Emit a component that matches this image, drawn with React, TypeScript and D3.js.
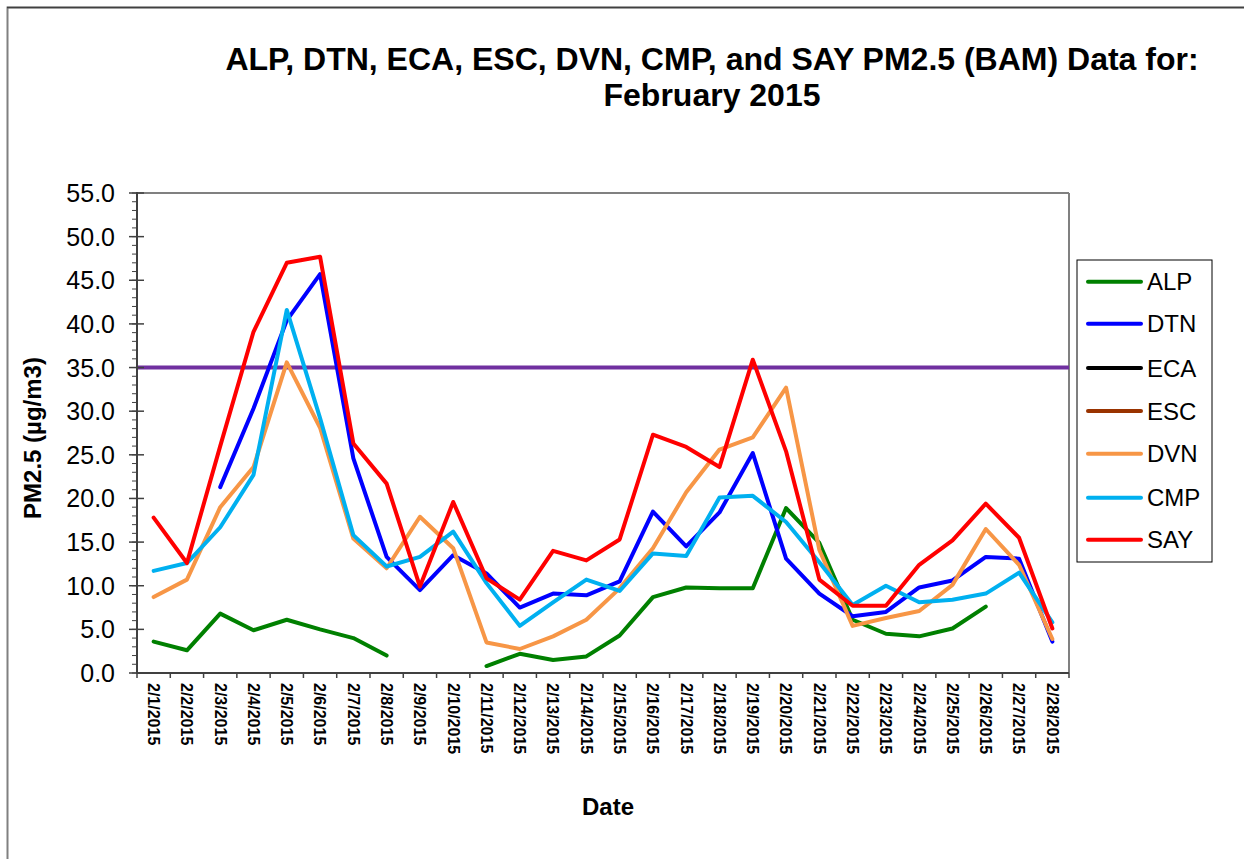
import React from "react";
import * as d3 from "d3";

const dates: string[] = Array.from({ length: 28 }, (_, i) => `2/${i + 1}/2015`);

const ALP: (number | null)[] = [3.6, 2.6, 6.8, 4.9, 6.1, 5.0, 4.0, 2.0, null, null, 0.8, 2.2, 1.5, 1.9, 4.3, 8.7, 9.8, 9.7, 9.7, 18.9, 14.9, 6.1, 4.5, 4.2, 5.1, 7.6, null, null];
const DTN: (number | null)[] = [null, null, 21.3, 30.3, 40.4, 45.7, 24.6, 13.3, 9.5, 13.5, 11.4, 7.5, 9.1, 8.9, 10.5, 18.5, 14.5, 18.4, 25.2, 13.1, 9.1, 6.5, 7.0, 9.8, 10.6, 13.3, 13.1, 3.6];
const ECA: (number | null)[] = dates.map(() => null);
const ESC: (number | null)[] = dates.map(() => null);
const DVN: (number | null)[] = [8.7, 10.7, 19.0, 23.6, 35.6, 28.1, 15.4, 12.0, 17.9, 14.3, 3.5, 2.75, 4.2, 6.1, 9.7, 14.3, 20.7, 25.6, 27.0, 32.7, 14.1, 5.4, 6.3, 7.1, 10.1, 16.5, 12.4, 3.9];
const CMP: (number | null)[] = [11.7, 12.6, 16.7, 22.7, 41.6, 29.2, 15.8, 12.2, 13.3, 16.2, 10.3, 5.4, 8.1, 10.7, 9.4, 13.7, 13.4, 20.1, 20.3, 17.3, 12.7, 7.8, 10.0, 8.1, 8.4, 9.1, 11.5, 5.8];
const SAY: (number | null)[] = [17.8, 12.6, 26.0, 39.1, 47.0, 47.7, 26.3, 21.7, 9.9, 19.6, 10.85, 8.4, 14.0, 12.9, 15.3, 27.3, 25.9, 23.6, 35.9, 25.4, 10.7, 7.7, 7.7, 12.4, 15.2, 19.4, 15.5, 5.1];

const seriesNames = ["ALP", "DTN", "ECA", "ESC", "DVN", "CMP", "SAY"];
const seriesColors = ["#008000", "#0000FF", "#000000", "#993300", "#F79646", "#00B0F0", "#FF0000"];
const seriesData = [ALP, DTN, ECA, ESC, DVN, CMP, SAY];

const standard = 35;
const yTicks = d3.range(0, 55.01, 5);
const yMinor = d3.range(0, 55.01, 1);

const FONT = "'Liberation Sans', Arial, sans-serif";

export default function App() {
  const left = 137, right = 1069, top = 193, bottom = 673;
  const x = d3.scaleBand<string>().domain(dates).range([left, right]);
  const cx = (d: string) => (x(d) as number) + x.bandwidth() / 2;
  const y = d3.scaleLinear().domain([0, 55]).range([bottom, top]);

  const line = d3
    .line<number | null>()
    .defined((d) => d != null)
    .x((_, i) => cx(dates[i]))
    .y((d) => y(d as number));

  const legendX = 1077, legendY = 260;
  const legendRows = [281.7, 323.7, 368, 411, 453.7, 497.7, 539.7];

  return (
    <svg width={1244} height={859} style={{ position: "absolute", left: 0, top: 0, background: "#fff" }} fontFamily={FONT}>
      <rect x={0} y={0} width={1244} height={859} fill="#fff" />
      <rect x={7.5} y={7.5} width={1400} height={1000} fill="none" stroke="#808080" strokeWidth={2} />
      <line x1={7} y1={7.5} x2={1244} y2={7.5} stroke="#404040" strokeWidth={1.5} />

      <text x={712} y={70} textAnchor="middle" fontWeight="bold" fontSize={32}>
        ALP, DTN, ECA, ESC, DVN, CMP, and SAY PM2.5 (BAM) Data for:
      </text>
      <text x={712} y={106} textAnchor="middle" fontWeight="bold" fontSize={32}>
        February 2015
      </text>

      {/* plot border top/right */}
      <line x1={left} y1={top} x2={right} y2={top} stroke="#808080" strokeWidth={2} />
      <line x1={right} y1={top} x2={right} y2={bottom} stroke="#808080" strokeWidth={2} />

      {/* standard line */}
      <line x1={left} y1={y(standard)} x2={right} y2={y(standard)} stroke="#7030A0" strokeWidth={4} />

      {/* series */}
      {seriesData.map((s, k) => (
        <path key={seriesNames[k]} d={line(s) || ""} fill="none" stroke={seriesColors[k]} strokeWidth={4} strokeLinejoin="round" strokeLinecap="round" />
      ))}

      {/* y axis */}
      <line x1={left} y1={top - 1} x2={left} y2={bottom + 1} stroke="#404040" strokeWidth={2} />
      {yMinor.map((v) => (
        <line key={"m" + v} x1={left - 5} x2={left} y1={y(v)} y2={y(v)} stroke="#404040" strokeWidth={1} />
      ))}
      {yTicks.map((v) => (
        <g key={"t" + v}>
          <line x1={left - 8} x2={left + 7} y1={y(v)} y2={y(v)} stroke="#404040" strokeWidth={1.5} />
          <text x={115} y={y(v)} dy="0.36em" textAnchor="end" fontSize={25}>
            {v.toFixed(1)}
          </text>
        </g>
      ))}

      {/* x axis */}
      <line x1={left} y1={bottom} x2={right} y2={bottom} stroke="#404040" strokeWidth={2} />
      {d3.range(0, dates.length + 1).map((k) => {
        const xx = left + k * x.step();
        return <line key={"xt" + k} x1={xx} x2={xx} y1={bottom} y2={bottom + 5} stroke="#404040" strokeWidth={1.5} />;
      })}
      {dates.map((d) => (
        <text key={d} transform={`translate(${cx(d)},683) rotate(90)`} dy="0.35em" fontSize={16} fontWeight="bold">
          {d}
        </text>
      ))}

      <text transform={`translate(41,438) rotate(-90)`} textAnchor="middle" fontWeight="bold" fontSize={24}>
        PM2.5 (µg/m3)
      </text>
      <text x={608} y={815} textAnchor="middle" fontWeight="bold" fontSize={24}>
        Date
      </text>

      {/* legend */}
      <rect x={legendX} y={legendY} width={135} height={302} fill="#fff" stroke="#000" strokeWidth={1} />
      {seriesNames.map((n, k) => (
        <g key={"lg" + n}>
          <line x1={1088} x2={1141} y1={legendRows[k]} y2={legendRows[k]} stroke={seriesColors[k]} strokeWidth={4} strokeLinecap="round" />
          <text x={1147} y={legendRows[k]} dy="0.36em" fontSize={24}>
            {n}
          </text>
        </g>
      ))}
    </svg>
  );
}
